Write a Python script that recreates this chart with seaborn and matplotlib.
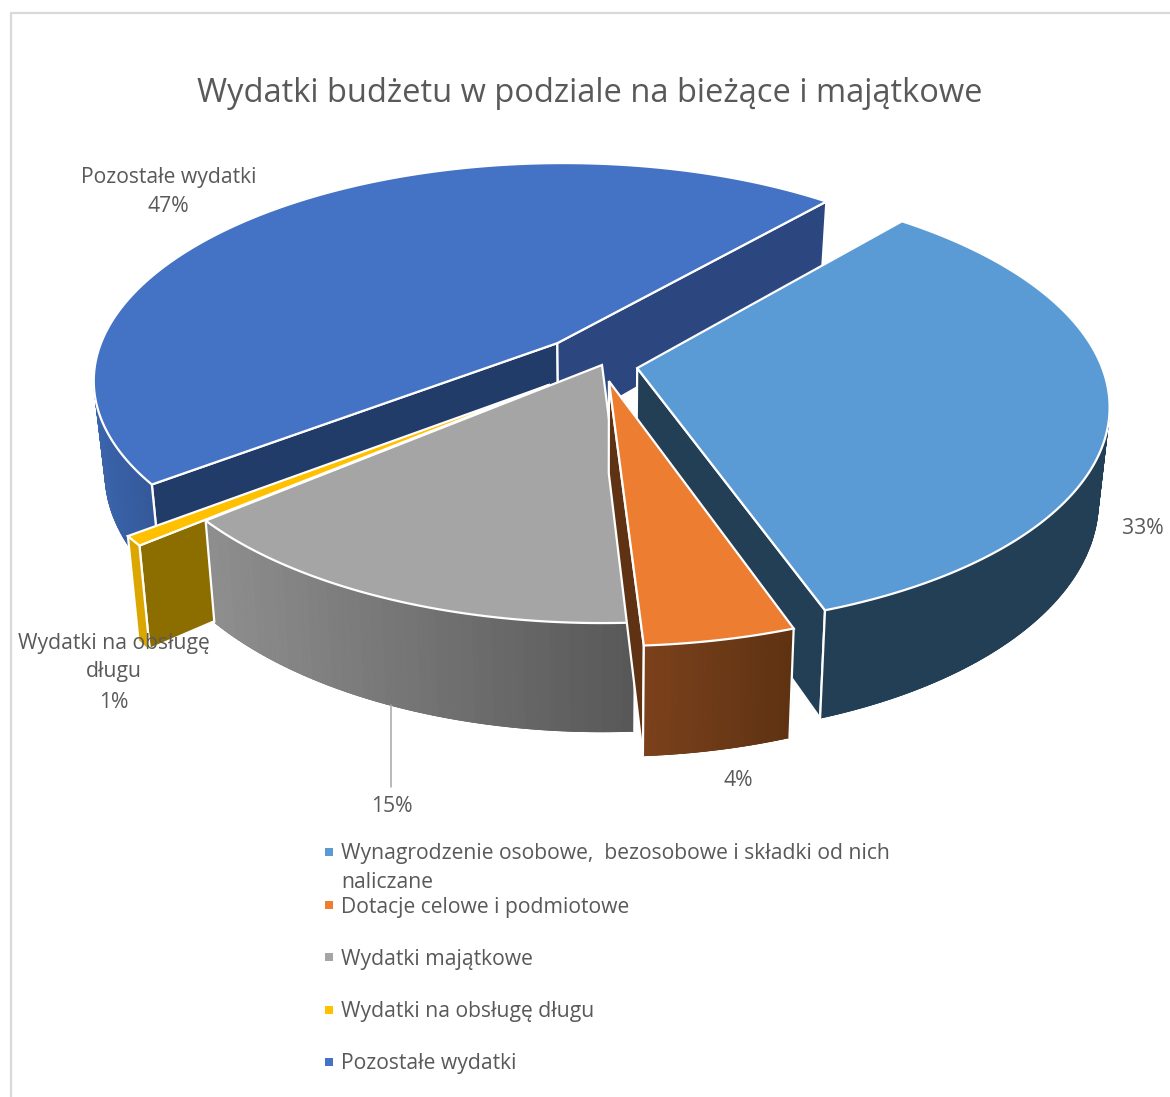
import numpy as np
import matplotlib
matplotlib.use("Agg")
import matplotlib.pyplot as plt
import seaborn as sns

# ---- data ----
title = "Wydatki budżetu w podziale na bieżące i majątkowe"
categories = ["Wynagrodzenie osobowe,  bezosobowe i składki od nich\nnaliczane",
              "Dotacje celowe i podmiotowe",
              "Wydatki majątkowe",
              "Wydatki na obsługę długu",
              "Pozostałe wydatki"]
values = [33.4, 4.4, 14.8, 0.7, 46.7]

# ---- style ----
top_colors = ["#5B9BD5", "#ED7D31", "#A5A5A5", "#FFC000", "#4472C4"]
wall_from = ["#233F55", "#7B411C", "#8E8E8E", "#DBA600", "#3B64AB"]
wall_to = ["#233F55", "#5E3212", "#575757", "#DBA600", "#34599A"]
cut_a0 = ["#233F55", "#5E3212", "#575757", "#8B6D00", "#223C69"]
cut_a1 = ["#233F55", "#5E3212", "#575757", "#8B6D00", "#2C4780"]
explode = [0.077, 0.075, 0.0, 0.145, 0.142]
start_angle = 40.5
CX, CY, R, H, K, DEPTH, CONVERGE = 602, 365, 464, 216, 0.163, 91, 0.022
TXT = "#595959"
FONT = "Open Sans"

sns.set_theme(style="white")
plt.rcParams["font.family"] = [FONT, "DejaVu Sans"]

fig = plt.figure(figsize=(11.7, 10.97), dpi=100)
ax = fig.add_axes([0, 0, 1, 1])
ax.set_xlim(0, 1170)
ax.set_ylim(1097, 0)
ax.axis("off")


def proj(u, v, z=0.0):
    s = 1.0 / (1.0 + K * v)
    return CX + R * u * s * (1.0 - CONVERGE * z), CY - H * v * s + DEPTH * z * s


shares = np.array(values, dtype=float) / np.sum(values)
edges = start_angle + 360.0 * np.concatenate([[0], np.cumsum(shares)])
WHITE = dict(edgecolor="white", linewidth=1.6, joinstyle="miter")
order = [0]


def z():
    order[0] += 1
    return order[0]


def draw_slice(i):
    a0, a1 = edges[i], edges[i + 1]
    mid = np.radians((a0 + a1) / 2)
    au, av = explode[i] * np.sin(mid), explode[i] * np.cos(mid)
    th = np.radians(np.linspace(a0, a1, max(12, int((a1 - a0) * 1.5))))
    ru, rv = au + np.sin(th), av + np.cos(th)

    def quad(u0, v0, u1, v1, color, **kw):
        ax.fill([proj(u0, v0)[0], proj(u1, v1)[0], proj(u1, v1, 1)[0], proj(u0, v0, 1)[0]],
                [proj(u0, v0)[1], proj(u1, v1)[1], proj(u1, v1, 1)[1], proj(u0, v0, 1)[1]],
                facecolor=color, zorder=z(), **kw)

    def facing(u1, v1):
        ax_, ay_ = proj(au, av)
        bx, by = proj(u1, v1)
        cx_, cy_ = proj(u1, v1, 1)
        return (bx - ax_) * (cy_ - ay_) - (by - ay_) * (cx_ - ax_)

    # cut faces that look toward the viewer
    if facing(ru[0], rv[0]) < 0:
        quad(au, av, ru[0], rv[0], cut_a0[i], **WHITE)
    if facing(ru[-1], rv[-1]) > 0:
        quad(au, av, ru[-1], rv[-1], cut_a1[i], **WHITE)

    # front-facing part of the outer wall, painted strip by strip for the shading
    xs = proj(ru, rv)[0]
    front = np.diff(xs) < 0
    if front.any():
        idx = np.where(front)[0]
        fu, fv = ru[idx[0]:idx[-1] + 2], rv[idx[0]:idx[-1] + 2]
        x0, y0 = proj(fu, fv)
        x1, y1 = proj(fu, fv, 1)
        shades = sns.blend_palette([wall_from[i], wall_to[i]], 40)
        ax.fill(np.r_[x0, x1[::-1]], np.r_[y0, y1[::-1]], facecolor=shades[20],
                edgecolor=shades[20], linewidth=0.5, zorder=z())
        xmin, xmax = x0.min(), x0.max()
        for j in range(len(fu) - 1):
            xm = (x0[j] + x0[j + 1]) / 2
            c = shades[int(np.clip((xm - xmin) / max(xmax - xmin, 1) * 39, 0, 39))]
            quad(fu[j], fv[j], fu[j + 1], fv[j + 1], c, edgecolor=c, linewidth=0.6)
        # white verticals at the wall ends that stand on a cut
        for e_u, e_v, on_cut in ((fu[0], fv[0], idx[0] == 0), (fu[-1], fv[-1], idx[-1] == len(xs) - 2)):
            if on_cut:
                xa, ya = proj(e_u, e_v)
                xb, yb = proj(e_u, e_v, 1)
                ax.plot([xa, xb], [ya, yb], color="white", lw=1.6, zorder=z())
    # top
    x, y = proj(ru, rv)
    ax.fill(np.r_[proj(au, av)[0], x], np.r_[proj(au, av)[1], y],
            facecolor=top_colors[i], zorder=z(), **WHITE)


for idx_ in [4, 0, 3, 2, 1]:
    draw_slice(idx_)

T = order[0] + 10

# frame
ax.plot([11, 11], [1097, 13], color="#D9D9D9", lw=1.6, zorder=T)
ax.plot([11, 1170], [13, 13], color="#D9D9D9", lw=1.6, zorder=T)

# title
ax.text(590, 93, title, ha="center", va="center", color=TXT, fontsize=23.52, zorder=T)

# data labels
LS = 15.23


def label(x, y, s, **kw):
    ax.text(x, y, s, va="center", color=TXT, fontsize=LS, zorder=T, **{"ha": "center", **kw})


pct = [f"{v:.0f}%" for v in values]
ax.plot([391, 391], [705, 787], color="#A6A6A6", lw=1.1, zorder=T)
label(169, 178, categories[4])
label(168, 206, pct[4])
label(1143, 529, pct[0])
label(738, 781, pct[1])
label(392, 806, pct[2])
label(114, 643, "Wydatki na obsługę")
label(114, 672, "długu")
label(114, 702, pct[3])

# legend
legend_rows = [852, 905, 957, 1010, 1062]
for name, col, row in zip(categories, top_colors, legend_rows):
    first = name.split("\n")
    ax.scatter([329], [row], marker="s", s=30, color=col, linewidths=0, zorder=T)
    label(341, row + 2, first[0], ha="left")
    if len(first) > 1:
        label(341, row + 31, first[1], ha="left")

fig.savefig("out.png", dpi=100, facecolor="white")
